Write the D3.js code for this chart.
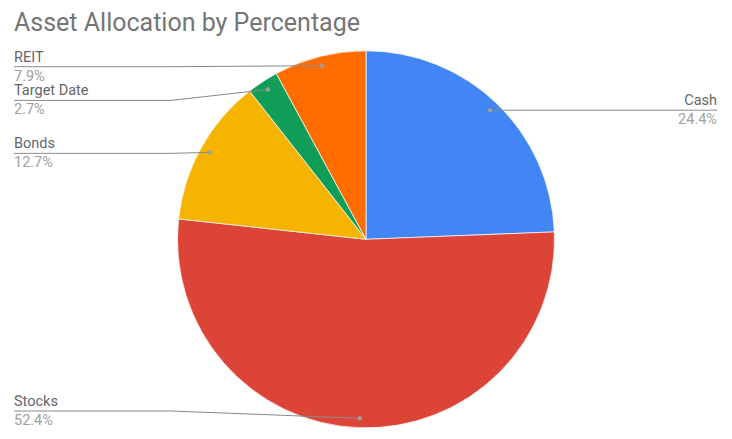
<!DOCTYPE html>
<html><head><meta charset="utf-8">
<script src="https://cdn.jsdelivr.net/npm/d3@7"></script>
<style>body{margin:0;background:#fff}svg{display:block}</style>
</head><body>
<script>
const categories = ["Cash", "Stocks", "Bonds", "Target Date", "REIT"];
const values = [24.4, 52.4, 12.7, 2.7, 7.9];
const labels = ["24.4%", "52.4%", "12.7%", "2.7%", "7.9%"];
const colors = ["#4285f4", "#db4437", "#f4b400", "#0f9d58", "#ff6d00"];

const W = 732, H = 439;
const cx = 366, cy = 239.3, R = 188.5;
const svg = d3.select("body").append("svg").attr("width", W).attr("height", H)
  .style("font-family", "Roboto, sans-serif");

svg.append("text").attr("x", 14).attr("y", 31).attr("font-size", 25)
  .attr("fill", "#757575").text("Asset Allocation by Percentage");

const data = categories.map((c, i) => ({name: c, value: values[i], label: labels[i], color: colors[i]}));
const pie = d3.pie().value(d => d.value).sort(null);
const arcs = pie(data);
const arc = d3.arc().innerRadius(0).outerRadius(R);
const dotArc = d3.arc().innerRadius(R * 0.95).outerRadius(R * 0.95);

const g = svg.append("g").attr("transform", `translate(${cx},${cy})`);
g.selectAll("path.slice").data(arcs).join("path").attr("class", "slice")
  .attr("d", arc).attr("fill", d => d.data.color)
  .attr("stroke", "#fff").attr("stroke-width", 0.7);

// label layout
const items = arcs.map(a => {
  const [x, y] = dotArc.centroid(a);
  const mid = (a.startAngle + a.endAngle) / 2;
  return {a, dx: x + cx, dy: y + cy, right: mid < Math.PI};
});
const minGap = 33.7, maxY = H - 28;
["left", "right"].forEach(side => {
  const grp = items.filter(d => (side === "right") === d.right).sort((p, q) => p.dy - q.dy);
  let prev = -Infinity;
  grp.forEach(d => { d.ly = Math.max(d.dy + (side === "left" ? 1 : 0), prev + minGap); prev = d.ly; });
  for (let i = grp.length - 1; i >= 0; i--) {
    const lim = i === grp.length - 1 ? maxY : grp[i + 1].ly - minGap;
    if (grp[i].ly > lim) grp[i].ly = lim;
  }
});

const leftX = 14, rightX = 717, elbowL = 171, elbowR = 516;
const lines = svg.append("g");
items.forEach(d => {
  const pts = d.right
    ? [[d.dx, d.dy], [elbowR, d.ly], [rightX, d.ly]]
    : [[d.dx, d.dy], [elbowL, d.ly], [leftX, d.ly]];
  lines.append("path").attr("d", d3.line()(pts)).attr("fill", "none")
    .attr("stroke", "#8a8a8a").attr("stroke-width", 1);
  lines.append("circle").attr("cx", d.dx).attr("cy", d.dy).attr("r", 2.2).attr("fill", "#9e9e9e");
  const tx = d.right ? rightX : leftX;
  const anchor = d.right ? "end" : "start";
  lines.append("text").attr("x", tx).attr("y", d.ly - 5).attr("text-anchor", anchor)
    .attr("font-size", 14.5).attr("fill", "#666666").text(d.a.data.name);
  lines.append("text").attr("x", tx).attr("y", d.ly + 14).attr("text-anchor", anchor)
    .attr("font-size", 14.5).attr("fill", "#a0a0a0").text(d.a.data.label);
});
</script>
</body></html>
